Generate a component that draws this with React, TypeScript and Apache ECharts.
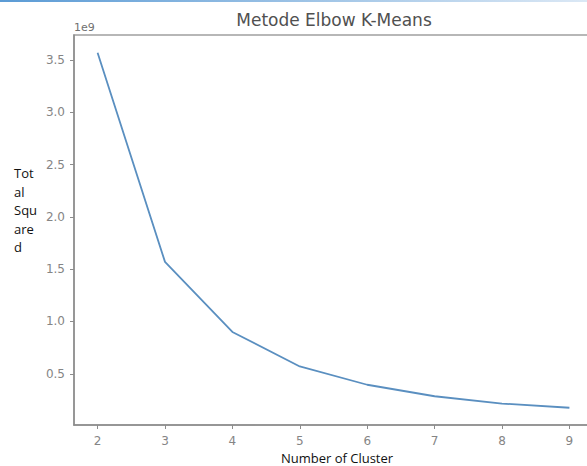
import React, { useEffect, useRef } from "react";
import * as echarts from "echarts";

const clusters = [2, 3, 4, 5, 6, 7, 8, 9];
const totalSquared = [3.57e9, 1.57e9, 0.9e9, 0.57e9, 0.395e9, 0.285e9, 0.215e9, 0.175e9];
const xTicks = [2, 3, 4, 5, 6, 7, 8, 9];
const yTicks = [0.5e9, 1.0e9, 1.5e9, 2.0e9, 2.5e9, 3.0e9, 3.5e9];
const titleText = "Metode Elbow K-Means";
const xLabel = "Number of Cluster";
const yLabelLines = ["Tot", "al", "Squ", "are", "d"];
const offsetText = "1e9";

export default function App() {
  const ref = useRef<HTMLDivElement>(null);
  useEffect(() => {
    if (!ref.current) return;
    const chart = echarts.init(ref.current, null, { renderer: "svg" });
    const axisColor = "#8c8c8c";
    const labelColor = "#858585";
    chart.setOption({
      animation: false,
      backgroundColor: "#ffffff",
      grid: {
        left: 74,
        top: 35,
        width: 519,
        height: 390,
        show: true,
        borderColor: "#a0a0a0",
        borderWidth: 1.5,
        backgroundColor: "transparent",
        outerBoundsMode: "none",
        containLabel: false,
      },
      xAxis: {
        type: "value",
        min: 1.65,
        max: 9.35,
        splitLine: { show: false },
        axisLine: { show: true, lineStyle: { color: axisColor, width: 1.5 } },
        axisTick: { show: true, customValues: xTicks, length: 4, lineStyle: { color: axisColor } },
        axisLabel: {
          customValues: xTicks,
          color: labelColor,
          fontSize: 12,
          fontFamily: "DejaVu Sans",
          margin: 10,
          formatter: (v: number) => String(v),
        },
      },
      yAxis: {
        type: "value",
        min: 0.01e9,
        max: 3.74e9,
        splitLine: { show: false },
        axisLine: { show: true, lineStyle: { color: axisColor, width: 1.5 } },
        axisTick: { show: true, customValues: yTicks, length: 4, lineStyle: { color: axisColor } },
        axisLabel: {
          customValues: yTicks,
          color: labelColor,
          fontSize: 12,
          fontFamily: "DejaVu Sans",
          margin: 9,
          formatter: (v: number) => (v / 1e9).toFixed(1),
        },
      },
      series: [
        {
          type: "line",
          data: clusters.map((c, i) => [c, totalSquared[i]]),
          showSymbol: false,
          symbol: "none",
          lineStyle: { color: "#5a8fc0", width: 1.8 },
        },
      ],
      graphic: [
        {
          type: "rect",
          shape: { x: 0, y: 0, width: 587, height: 2 },
          style: {
            fill: new echarts.graphic.LinearGradient(0, 0, 1, 0, [
              { offset: 0, color: "#5b9bd5" },
              { offset: 1, color: "#dbe8f5" },
            ]),
          },
        },
        {
          type: "text",
          x: 334,
          y: 20,
          style: {
            text: titleText,
            fill: "#505050",
            fontSize: 17,
            fontFamily: "DejaVu Sans",
            textAlign: "center",
            textVerticalAlign: "middle",
          },
        },
        {
          type: "text",
          x: 74,
          y: 27,
          style: {
            text: offsetText,
            fill: "#707070",
            fontSize: 11,
            fontFamily: "DejaVu Sans",
            textAlign: "left",
            textVerticalAlign: "middle",
          },
        },
        {
          type: "text",
          x: 337,
          y: 458,
          style: {
            text: xLabel,
            fill: "#111111",
            fontSize: 13,
            fontFamily: "Open Sans",
            textAlign: "center",
            textVerticalAlign: "middle",
          },
        },
        ...yLabelLines.map((t, i) => ({
          type: "text",
          x: 14,
          y: 173 + i * 18.5,
          style: {
            text: t,
            fill: "#111111",
            fontSize: 13,
            fontFamily: "Open Sans",
            textAlign: "left",
            textVerticalAlign: "middle",
          },
        })),
      ],
    });
    return () => chart.dispose();
  }, []);
  return (
    <div
      ref={ref}
      style={{ position: "absolute", left: 0, top: 0, width: 587, height: 466, background: "#fff" }}
    />
  );
}
